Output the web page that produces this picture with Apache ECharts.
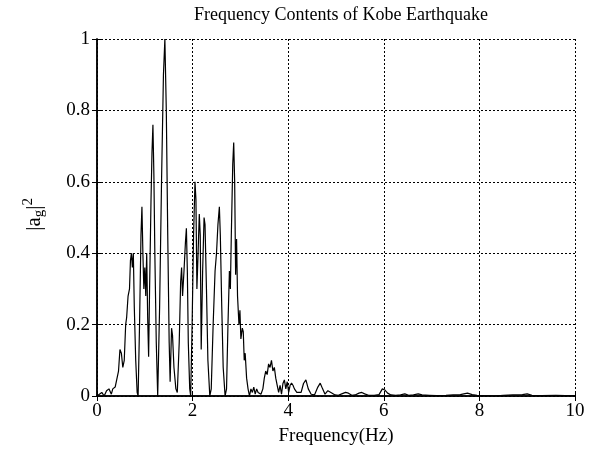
<!DOCTYPE html>
<html>
<head>
<meta charset="utf-8">
<script src="https://cdn.jsdelivr.net/npm/echarts@6/dist/echarts.min.js"></script>
<style>html,body{margin:0;padding:0;background:#fff}#c{width:601px;height:459px}</style>
</head>
<body>
<div id="c"></div>
<script>
const freq = [0.00,0.05,0.10,0.15,0.20,0.25,0.30,0.33,0.38,0.42,0.45,0.48,0.51,0.54,0.57,0.60,0.62,0.65,0.68,0.70,0.72,0.74,0.76,0.78,0.81,0.84,0.86,0.89,0.92,0.94,0.96,0.98,1.00,1.02,1.04,1.06,1.08,1.10,1.13,1.15,1.17,1.19,1.21,1.24,1.27,1.31,1.35,1.39,1.42,1.45,1.48,1.51,1.53,1.56,1.58,1.61,1.65,1.68,1.72,1.75,1.77,1.79,1.82,1.85,1.87,1.89,1.91,1.94,1.96,1.99,2.02,2.05,2.07,2.09,2.11,2.14,2.16,2.18,2.21,2.24,2.26,2.29,2.32,2.36,2.39,2.43,2.47,2.50,2.53,2.56,2.58,2.61,2.64,2.68,2.71,2.74,2.77,2.79,2.81,2.84,2.86,2.88,2.90,2.92,2.94,2.97,2.99,3.01,3.04,3.06,3.08,3.10,3.13,3.16,3.19,3.22,3.25,3.28,3.31,3.34,3.37,3.40,3.43,3.47,3.50,3.53,3.56,3.59,3.62,3.65,3.68,3.71,3.74,3.77,3.80,3.83,3.86,3.89,3.92,3.95,3.98,4.01,4.04,4.07,4.10,4.13,4.18,4.22,4.27,4.32,4.37,4.42,4.48,4.55,4.62,4.67,4.72,4.77,4.83,4.87,4.92,4.98,5.05,5.12,5.20,5.26,5.33,5.40,5.48,5.54,5.60,5.68,5.80,5.90,5.97,6.02,6.08,6.15,6.25,6.35,6.44,6.52,6.62,6.72,6.80,6.95,7.10,7.30,7.45,7.60,7.75,7.85,7.95,8.10,8.30,8.50,8.70,8.90,9.00,9.10,9.30,9.60,9.80,10.0];
const amp = [0.0,0.005,0.01,0.0,0.015,0.02,0.005,0.02,0.025,0.03,0.07,0.13,0.12,0.08,0.1,0.2,0.22,0.28,0.3,0.38,0.40,0.36,0.40,0.25,0.10,0.01,0.0,0.2,0.45,0.53,0.40,0.30,0.36,0.28,0.40,0.22,0.11,0.30,0.55,0.68,0.76,0.62,0.40,0.15,0.0,0.25,0.6,0.9,1.0,0.8,0.45,0.15,0.04,0.19,0.17,0.08,0.02,0.01,0.15,0.32,0.36,0.28,0.35,0.43,0.47,0.35,0.15,0.02,0.0,0.2,0.45,0.60,0.55,0.30,0.38,0.51,0.45,0.13,0.35,0.50,0.48,0.30,0.10,0.0,0.02,0.20,0.35,0.40,0.48,0.53,0.45,0.25,0.08,0.0,0.02,0.2,0.35,0.30,0.45,0.65,0.71,0.60,0.34,0.44,0.28,0.20,0.24,0.16,0.19,0.18,0.10,0.12,0.05,0.02,0.0,0.02,0.01,0.025,0.005,0.02,0.01,0.015,0.005,0.02,0.05,0.07,0.06,0.09,0.08,0.10,0.07,0.08,0.05,0.03,0.01,0.03,0.005,0.035,0.045,0.02,0.04,0.01,0.03,0.036,0.03,0.02,0.01,0.005,0.01,0.035,0.045,0.02,0.005,0.003,0.025,0.036,0.02,0.005,0.015,0.017,0.008,0.003,0.002,0.006,0.01,0.008,0.002,0.003,0.008,0.01,0.006,0.002,0.002,0.004,0.02,0.017,0.008,0.003,0.002,0.003,0.006,0.002,0.003,0.006,0.003,0.002,0.001,0.002,0.003,0.004,0.008,0.004,0.002,0.001,0.0,0.002,0.003,0.004,0.006,0.002,0.001,0.002,0.001,0.001];
const xTicks = ['0','2','4','6','8','10'];
const yTicks = ['0','0.2','0.4','0.6','0.8','1'];
const titleText = 'Frequency Contents of Kobe Earthquake';
const xName = 'Frequency(Hz)';

const chart = echarts.init(document.getElementById('c'));
const font = '"Liberation Serif","Times New Roman",serif';
const data = freq.map((f,i)=>[f, amp[i]]);
const axBase = {
  axisLine:{show:true,lineStyle:{color:'#000',width:1.5}},
  axisTick:{show:true,inside:true,length:5,lineStyle:{color:'#000'}},
};
chart.setOption({
  animation:false,
  backgroundColor:'#fff',
  title:{text:titleText,left:336,textAlign:'center',top:1,textStyle:{fontFamily:font,fontWeight:'normal',fontSize:18,color:'#000'}},
  grid:{left:97,right:26,top:39,bottom:63,show:false},
  xAxis:[
    Object.assign({type:'value',min:0,max:10,interval:2,position:'bottom',
      name:xName,nameLocation:'middle',nameGap:31,
      nameTextStyle:{fontFamily:font,fontSize:19,color:'#000'},
      axisLabel:{fontFamily:font,fontSize:19,color:'#000',margin:6,formatter:(v)=>xTicks[v/2]},
      splitLine:{show:true,lineStyle:{color:'#000',type:[2,2],width:1}}},axBase),
    Object.assign({type:'value',min:0,max:10,interval:2,position:'top',axisLabel:{show:false},splitLine:{show:false}},axBase)
  ],
  yAxis:[
    Object.assign({type:'value',min:0,max:1,interval:0.2,position:'left',
      axisLabel:{fontFamily:font,fontSize:19,color:'#000',margin:7,formatter:(v)=>yTicks[Math.round(v*5)]},
      splitLine:{show:true,lineStyle:{color:'#000',type:[2,2],width:1}}},axBase),
    Object.assign({type:'value',min:0,max:1,interval:0.2,position:'right',axisLabel:{show:false},splitLine:{show:false}},axBase)
  ],
  graphic:[{
    type:'text',left:21,top:198,rotation:Math.PI/2,
    style:{
      text:'|a{sub|g}|{sup|2}',
      rich:{sub:{fontSize:15,fontFamily:font,verticalAlign:'bottom',padding:[9,0,0,0]},sup:{fontSize:15,fontFamily:font,padding:[0,0,11,0]}},
      font:'21px '+font,fill:'#000'
    }
  }],
  series:[{type:'line',data:data,showSymbol:false,symbol:'none',lineStyle:{color:'#000',width:1.2},xAxisIndex:0,yAxisIndex:0}]
});
</script>
</body>
</html>
